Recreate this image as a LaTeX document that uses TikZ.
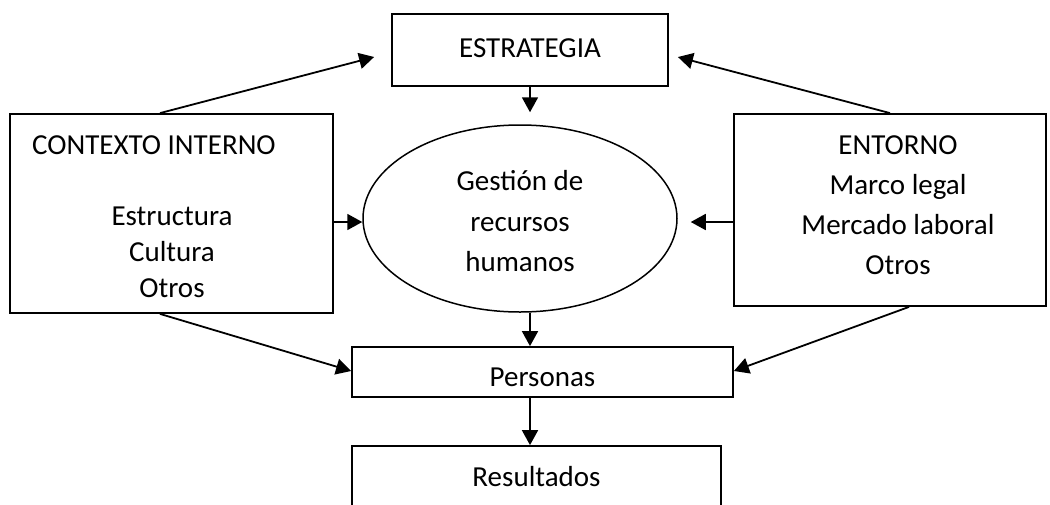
\documentclass[tikz,border=0pt]{standalone}
\usepackage{fontspec}
\setmainfont{Carlito}
\usetikzlibrary{arrows.meta,calc,shapes.geometric}
\begin{document}
\begin{tikzpicture}[x=1pt,y=-1pt,
  box/.style={draw,line width=1.8pt,inner sep=0pt},
  oval/.style={draw,ellipse,line width=1.5pt,inner sep=0pt},
  lbl/.style={font=\fontsize{29}{35}\selectfont,inner sep=0pt,anchor=base},
  arr/.style={line width=1.8pt,-{Triangle[length=15pt,width=16pt]}}]
\useasboundingbox (0,0) rectangle (1050,504);
% boxes
\node[box,minimum width=276pt,minimum height=72pt] (estr) at (530,50) {};
\node[box,minimum width=323pt,minimum height=199pt] (ctx) at (171.5,213.5) {};
\node[box,minimum width=312pt,minimum height=192pt] (ent) at (890,210) {};
\node[oval,minimum width=314pt,minimum height=187pt] (ghr) at (520,218.5) {};
\node[box,minimum width=381pt,minimum height=50pt] (pers) at (542.5,372) {};
\node[box,minimum width=369pt,minimum height=60pt] (res) at (536.5,476) {};
% texts
\node[lbl] (testr) at (530,57) {ESTRATEGIA};
\node[lbl,anchor=base west] (tctx) at (32,154) {CONTEXTO INTERNO};
\node[lbl] (tctx1) at (172,225) {Estructura};
\node[lbl] (tctx2) at (172,261) {Cultura};
\node[lbl] (tctx3) at (172,297) {Otros};
\node[lbl] (tghr1) at (520,190) {Gestión de};
\node[lbl] (tghr2) at (520,231) {recursos};
\node[lbl] (tghr3) at (520,271) {humanos};
\node[lbl] (tent1) at (898,154) {ENTORNO};
\node[lbl] (tent2) at (898,194) {Marco legal};
\node[lbl] (tent3) at (898,234) {Mercado laboral};
\node[lbl] (tent4) at (898,274) {Otros};
\node[lbl] (tpers) at (542.5,386) {Personas};
\node[lbl] (tres) at (536.5,486) {Resultados};
% arrows
\draw[arr] ($(ctx.north)+(-11.5,0)$) -- ($(estr.west)+(-17,7)$);
\draw[arr] (ent.north) -- ($(estr.east)+(9,7)$);
\draw[arr] (estr.south) -- ($(ghr.north)+(10,-12)$);
\draw[arr] ($(ctx.east)+(0,8.5)$) -- ($(ghr.west)+(0,3.5)$);
\draw[arr] ($(ent.west)+(0,12)$) -- ($(ghr.east)+(13,3.5)$);
\draw[arr] ($(ghr.south)+(10,0)$) -- ($(pers.north)+(-12.5,0)$);
\draw[arr] ($(ctx.south)+(-11.5,0)$) -- ($(pers.west)+(0,-1)$);
\draw[arr] ($(ent.south)+(19,0)$) -- ($(pers.east)+(0,-1)$);
\draw[arr] ($(pers.south)+(-12.5,0)$) -- ($(res.north)+(-6.5,0)$);
\end{tikzpicture}
\end{document}
